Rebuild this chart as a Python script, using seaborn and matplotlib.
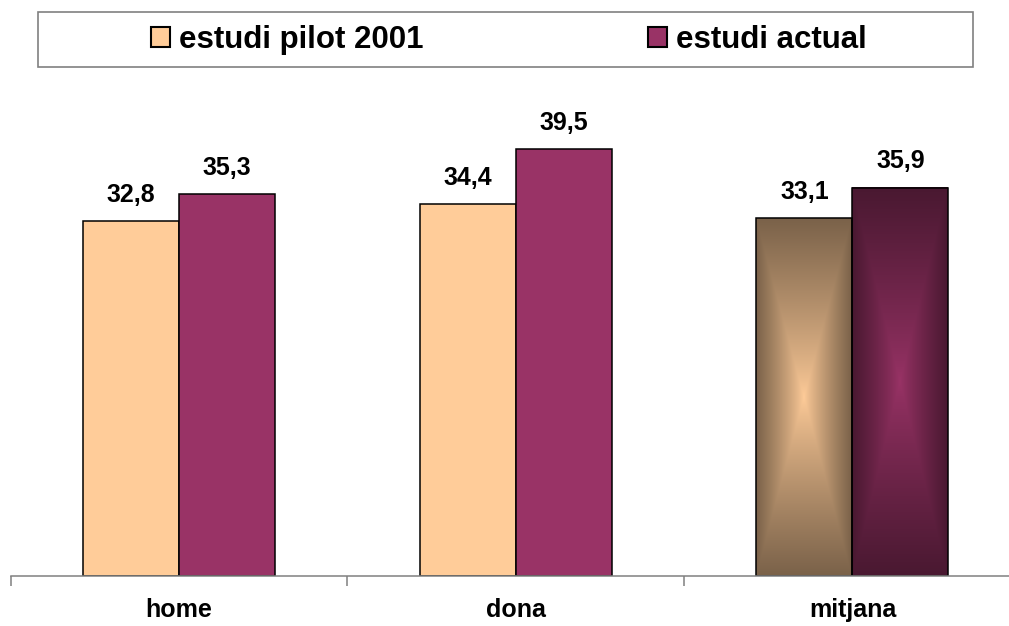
import numpy as np
import pandas as pd
import matplotlib
matplotlib.use("Agg")
import matplotlib.pyplot as plt
import matplotlib.patches as mpatches
from matplotlib.colors import to_rgb
import seaborn as sns

categories = ["home", "dona", "mitjana"]
series_names = ["estudi pilot 2001", "estudi actual"]
pilot_values = [32.8, 34.4, 33.1]
actual_values = [35.3, 39.5, 35.9]
value_labels_pilot = ["32,8", "34,4", "33,1"]
value_labels_actual = ["35,3", "39,5", "35,9"]
colors = ["#FFCC99", "#993366"]
gradient_category = "mitjana"

sns.set_theme(style="white")
plt.rcParams["font.family"] = ["Liberation Sans", "DejaVu Sans"]
plt.rcParams["font.weight"] = "bold"
plt.rcParams["text.color"] = "black"
plt.rcParams["xtick.color"] = "black"
plt.rcParams["xtick.labelcolor"] = "black"

df = pd.DataFrame({
    "cat": categories * 2,
    "serie": [series_names[0]] * 3 + [series_names[1]] * 3,
    "val": pilot_values + actual_values,
})

W, H = 1009, 626
fig = plt.figure(figsize=(W / 100, H / 100), dpi=100)
ax_left = 10.7 / W
ax_width = 3 * 336.7 / W
y_bottom = 576
px_per_unit = 10.81
ymax = 45
ax_height = ymax * px_per_unit / H
ax = fig.add_axes([ax_left, 1 - y_bottom / H, ax_width, ax_height])

sns.barplot(data=df, x="cat", y="val", hue="serie", order=categories,
            hue_order=series_names, palette=colors, width=0.57, gap=0,
            edgecolor="black", linewidth=1.1, saturation=1, ax=ax, legend=True)

# gradient fill for the mitjana bars
gi = categories.index(gradient_category)
ny, nx = 200, 100
u = np.linspace(-1, 1, nx)[None, :]
v = np.linspace(-1, 1, ny)[:, None]
f = np.maximum(np.abs(u) * np.ones_like(v), np.abs(v) * np.ones_like(u))
f = f ** 0.85
bars = [p for p in ax.patches if isinstance(p, mpatches.Rectangle) and p.get_height() > 0]
for p in bars:
    xc = p.get_x() + p.get_width() / 2
    if abs(xc - gi) < 0.5:
        light = np.array(to_rgb(p.get_facecolor()[:3]))
        dark = light * 0.48
        img = light[None, None, :] * (1 - f[:, :, None]) + dark[None, None, :] * f[:, :, None]
        ax.imshow(img, extent=(p.get_x(), p.get_x() + p.get_width(), 0, p.get_height()),
                  aspect="auto", zorder=1.5, interpolation="bilinear")
        p.set_facecolor("none")
        p.set_zorder(2)

# value labels
for p in bars:
    xc = p.get_x() + p.get_width() / 2
    h = p.get_height()
    idx = int(round(xc))
    is_pilot = xc < idx
    lab = (value_labels_pilot if is_pilot else value_labels_actual)[idx]
    ax.annotate(lab, (xc, h), xytext=(0, 14), textcoords="offset points",
                ha="center", va="baseline", fontsize=18, fontweight="bold", color="black")

ax.set_xlim(-0.5, len(categories) - 0.5)
ax.set_ylim(0, ymax)
ax.set_yticks([])
ax.set_xlabel("")
ax.set_ylabel("")
for s in ["top", "right", "left"]:
    ax.spines[s].set_visible(False)
ax.spines["bottom"].set_color("#808080")
ax.spines["bottom"].set_linewidth(1.1)

ax.set_xticks(np.arange(len(categories) + 1) - 0.5)
ax.set_xticklabels([""] * (len(categories) + 1))
ax.tick_params(axis="x", which="major", bottom=True, length=7, width=1.1,
               color="#808080", direction="out")
ax.set_xticks(np.arange(len(categories)), minor=True)
ax.set_xticklabels(categories, minor=True, fontsize=18, fontweight="bold", color="black")
ax.tick_params(axis="x", which="minor", bottom=True, length=0, pad=16)

# legend
handles, labels = ax.get_legend_handles_labels()
ax.get_legend().remove()
leg = fig.legend(handles, labels, loc="center", bbox_to_anchor=(509 / W, 1 - 40 / H),
                 ncol=2, frameon=False, prop={"weight": "bold", "size": 22.5},
                 handlelength=0.6, handleheight=0.62, handletextpad=0.3,
                 columnspacing=7.2, borderpad=0)
for t in leg.get_texts():
    t.set_color("black")
for hnd in leg.legend_handles:
    hnd.set_edgecolor("black")
    hnd.set_linewidth(1.5)

frame = mpatches.Rectangle((38 / W, 1 - 67 / H), (973 - 38) / W, 55 / H,
                           transform=fig.transFigure, facecolor="white",
                           edgecolor="#808080", linewidth=1.2, zorder=-1)
fig.patches.append(frame)

fig.savefig("out.png", dpi=100)
